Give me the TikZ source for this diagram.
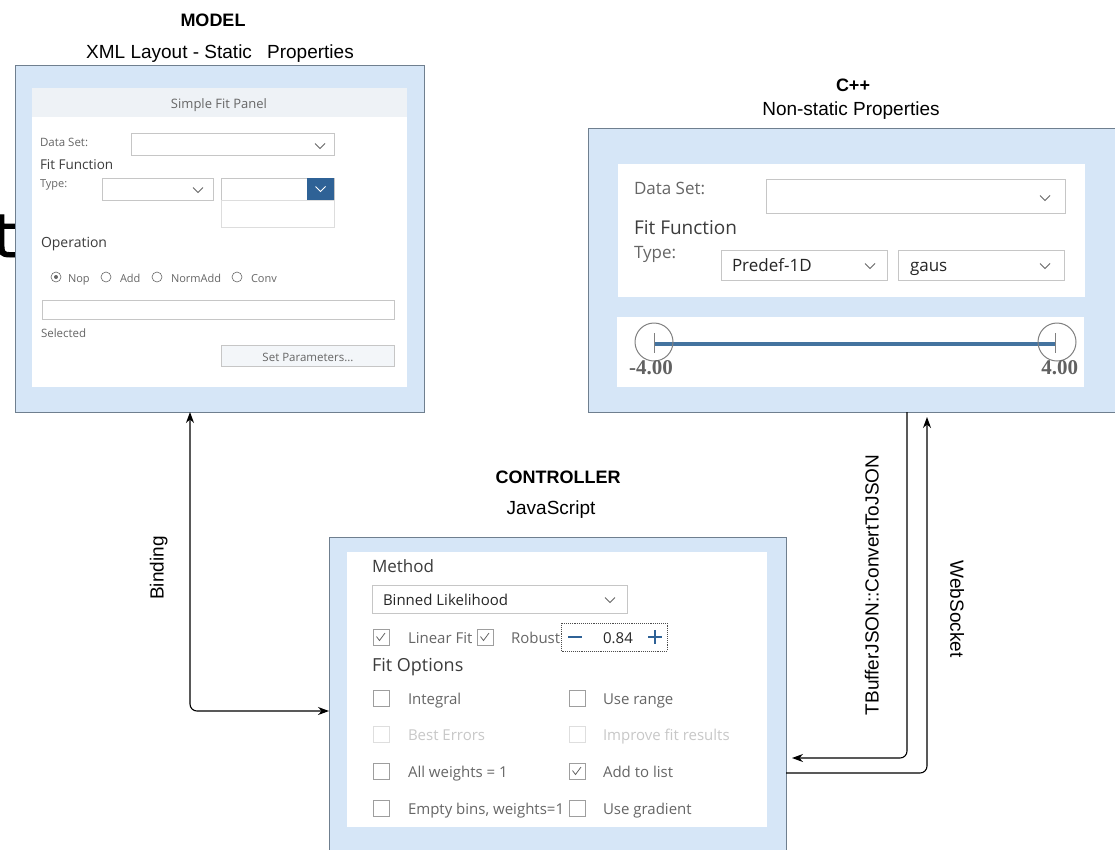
\documentclass[tikz,border=0pt]{standalone}
\usepackage{fontspec}
\setmainfont{Liberation Sans}
\newfontfamily\uifont{Open Sans}
\newfontfamily\bigfont[FakeBold=1.5]{DejaVu Sans}
\newfontfamily\numfont{Liberation Serif}
\usetikzlibrary{arrows.meta,calc}

\definecolor{panelblue}{HTML}{D6E6F7}
\definecolor{panelline}{HTML}{6F7F8F}
\definecolor{headgray}{HTML}{EEF2F6}
\definecolor{fieldline}{HTML}{C6C6C6}
\definecolor{labgray}{HTML}{666666}
\definecolor{txtdark}{HTML}{3C3C3C}
\definecolor{offgray}{HTML}{C8C8C8}
\definecolor{sapblue}{HTML}{2F6296}
\definecolor{sliderblue}{HTML}{44739F}

\newcommand\uisz[1]{\uifont\fontsize{#1}{#1}\selectfont}

\begin{document}
\begin{tikzpicture}[x=1pt,y=-1pt,
  every node/.style={inner sep=0pt, outer sep=0pt},
  outer/.style={draw=panelline, fill=panelblue, line width=0.8pt, anchor=north west},
  field/.style={draw=fieldline, fill=white, line width=0.6pt},
  ui/.style={yshift=-3.5pt},
  lbl/.style={ui, anchor=mid west, text=labgray},
  dark/.style={ui, anchor=mid west, text=txtdark},
  off/.style={ui, anchor=mid west, text=offgray},
  head/.style={anchor=mid, yshift=-4.5pt, font=\fontsize{18}{20}\selectfont\bfseries},
  sub/.style={anchor=mid, yshift=-4.5pt, font=\fontsize{19}{21}\selectfont},
  side/.style={anchor=mid, font=\fontsize{19}{21}\selectfont},
  link/.style={draw=black, line width=1.1pt, rounded corners=7pt},
  tip/.style={-{Stealth[length=11pt,width=8pt]}},
  pics/ddarrow/.style={code={\draw[line width=0.8pt,labgray,#1] (-5,-2.5) -- (0,2.5) -- (5,-2.5);}},
  pics/chk/.style={code={\draw[line width=0.8pt,draw=fieldline!80!black,#1] (-8,-8) rectangle (8,8);}},
  pics/chkmark/.style={code={\draw[line width=0.8pt,labgray,#1] (-4.5,-0.5) -- (-1.5,3.5) -- (4,-4);}},
  pics/radio/.style={code={\draw[line width=0.6pt,draw=labgray] (0,0) circle (5);}},
]
\useasboundingbox (0,0) rectangle (1115,849);
\clip (0,0) rectangle (1115,849);

% stray glyph at the left edge, partly hidden by the model panel
\node[anchor=base west, font=\bigfont\fontsize{60}{62}\selectfont] (stray) at (-7,257) {t};

% ---------------- MODEL ----------------
\node[head] (modelhead) at (213,19) {MODEL};
\node[sub] (modelsub) at (220,51) {XML Layout - Static\hspace{0.8em}Properties};
\node[outer, minimum width=409pt, minimum height=347pt] (model) at (15,65) {};
\fill[white] (32,88) rectangle (407,387);
\fill[headgray] (32,88) rectangle (407,117);
\node[ui, anchor=mid, text=labgray, font=\uisz{13}] (sfp) at (219,102) {Simple Fit Panel};
\node[lbl, font=\uisz{11.5}] (mds) at (40,140) {Data Set:};
\draw[field] (131,133) rectangle (334,155);
\pic at (320,146) {ddarrow};
\node[dark, font=\uisz{13.5}] (mff) at (40,163) {Fit Function};
\node[lbl, font=\uisz{11}] (mty) at (40,181) {Type:};
\draw[field] (102,178) rectangle (213,200);
\pic at (198,190) {ddarrow};
\draw[field] (221,178) rectangle (334,200);
\fill[sapblue] (307,178) rectangle (334,200);
\pic at (320.5,189) {ddarrow=white};
\draw[sapblue, line width=1pt] (221,200) -- (334,200);
\draw[draw=fieldline!60, fill=white, line width=0.6pt] (221,200) rectangle (334,227);
\node[dark, font=\uisz{14}] (mop) at (41,241) {Operation};
\pic at (56,277) {radio};
\fill[labgray] (56,277) circle (2);
\node[lbl, font=\uisz{11}] (mnop) at (68,276) {Nop};
\pic at (106,277) {radio};
\node[lbl, font=\uisz{11}] (madd) at (120,276) {Add};
\pic at (157,277) {radio};
\node[lbl, font=\uisz{11}] (mnadd) at (171,276) {NormAdd};
\pic at (237,277) {radio};
\node[lbl, font=\uisz{11}] (mconv) at (251,276) {Conv};
\draw[field] (42,300) rectangle (394,319);
\node[lbl, font=\uisz{11.5}] (msel) at (41,331) {Selected};
\draw[draw=fieldline, fill=headgray!70, line width=0.6pt] (221,345) rectangle (394,366);
\node[ui, anchor=mid, text=labgray, font=\uisz{11.5}] (mset) at (308,355) {Set Parameters...};

% ---------------- C++ ----------------
\node[head] (cpphead) at (853,84) {C++};
\node[sub] (cppsub) at (851,108) {Non-static Properties};
\node[outer, minimum width=535pt, minimum height=284pt] (cpp) at (588,128) {};
\fill[white] (618,164) rectangle (1085,297);
\node[lbl, font=\uisz{17}] (cds) at (634,188) {Data Set:};
\draw[field] (766,179) rectangle (1065,213);
\pic at (1045,198) {ddarrow};
\node[dark, font=\uisz{19}] (cff) at (634,228) {Fit Function};
\node[lbl, font=\uisz{17}] (cty) at (634,252) {Type:};
\draw[field] (721,250) rectangle (887,280);
\node[ui, anchor=mid west, text=black!85, font=\uisz{17}] (cpre) at (732,265) {Predef-1D};
\pic at (870,266) {ddarrow};
\draw[field] (898,250) rectangle (1064,280);
\node[ui, anchor=mid west, text=black!85, font=\uisz{17}] (cgaus) at (910,265) {gaus};
\pic at (1045,266) {ddarrow};
\fill[white] (617,317) rectangle (1084,387);
\draw[sliderblue, line width=3.2pt] (654,344) -- (1056,344);
\draw[gray, line width=1pt] (654,342) circle (19);
\draw[gray, line width=1pt] (1057,342) circle (19);
\draw[gray, line width=0.7pt] (654,333) -- (654,353);
\draw[gray, line width=0.7pt] (1055,333) -- (1055,353);
\node[anchor=mid west, text=black!62, font=\numfont\bfseries\fontsize{21}{22}\selectfont] (cmin) at (629,372) {-4.00};
\node[anchor=mid east, text=black!62, font=\numfont\bfseries\fontsize{21}{22}\selectfont] (cmax) at (1078,372) {4.00};

% ---------------- CONTROLLER ----------------
\node[head] (ctrlhead) at (558,476) {CONTROLLER};
\node[sub] (ctrlsub) at (551,507) {JavaScript};
\node[outer, minimum width=457pt, minimum height=330pt] (ctrl) at (329,537) {};
\fill[white] (347,552) rectangle (767,827);
\node[dark, font=\uisz{17}] (kmeth) at (372,566) {Method};
\draw[field] (372,585) rectangle (627,613);
\node[ui, anchor=mid west, text=black!85, font=\uisz{15}] (kbin) at (383,599) {Binned Likelihood};
\pic at (610,600) {ddarrow};
\pic at (381,637) {chk};
\pic at (381,637) {chkmark};
\node[lbl, font=\uisz{15}] (klin) at (408,637) {Linear Fit};
\pic at (485,637) {chk};
\pic at (485,637) {chkmark};
\node[lbl, font=\uisz{15}] (krob) at (511,637) {Robust};
\draw[densely dotted, black!70, line width=0.9pt] (561,623) rectangle (667,651);
\draw[sapblue, line width=1.8pt] (568,637) -- (582,637);
\node[ui, anchor=mid, text=black!85, font=\uisz{15}] (kval) at (618,637) {0.84};
\draw[sapblue, line width=1.8pt] (648,637) -- (662,637) (655,630) -- (655,644);
\node[dark, font=\uisz{18}] (kopt) at (372,665) {Fit Options};

\pic at (381,698) {chk};
\node[lbl, font=\uisz{15}] (kint) at (408,698) {Integral};
\pic at (577,698) {chk};
\node[lbl, font=\uisz{15}] (kuse) at (603,698) {Use range};
\pic at (381,734) {chk=offgray!60};
\node[off, font=\uisz{15}] (kbest) at (408,734) {Best Errors};
\pic at (577,734) {chk=offgray!60};
\node[off, font=\uisz{15}] (kimp) at (603,734) {Improve fit results};
\pic at (381,771) {chk};
\node[lbl, font=\uisz{15}] (kall) at (408,771) {All weights = 1};
\pic at (577,771) {chk};
\pic at (577,771) {chkmark};
\node[lbl, font=\uisz{15}] (kadd) at (603,771) {Add to list};
\pic at (381,808) {chk};
\node[lbl, font=\uisz{15}] (kemp) at (408,808) {Empty bins, weights=1};
\pic at (577,808) {chk};
\node[lbl, font=\uisz{15}] (kgrad) at (603,808) {Use gradient};

% ---------------- connectors ----------------
\coordinate (bindtop) at ($(model.south west)+(175,0)$);
\coordinate (bindend) at ($(ctrl.north west)+(0,174)$);
\draw[link, {Stealth[length=11pt,width=8pt]}-{Stealth[length=11pt,width=8pt]}] (bindtop) |- (bindend);
\node[side, rotate=90] (lbind) at (161,568) {Binding};

\coordinate (jsontop) at ($(cpp.south west)+(319,0)$);
\coordinate (jsonend) at ($(ctrl.north east)+(6,221)$);
\draw[link, tip] (jsontop) |- (jsonend);
\node[side, rotate=90] (ljson) at (876,585) {TBufferJSON::ConvertToJSON};

\coordinate (wsstart) at ($(ctrl.north east)+(0,236)$);
\coordinate (wsend) at ($(cpp.south west)+(339,5)$);
\draw[link, tip] (wsstart) -| (wsend);
\node[side, rotate=-90] (lws) at (953,609) {WebSocket};
\end{tikzpicture}
\end{document}
